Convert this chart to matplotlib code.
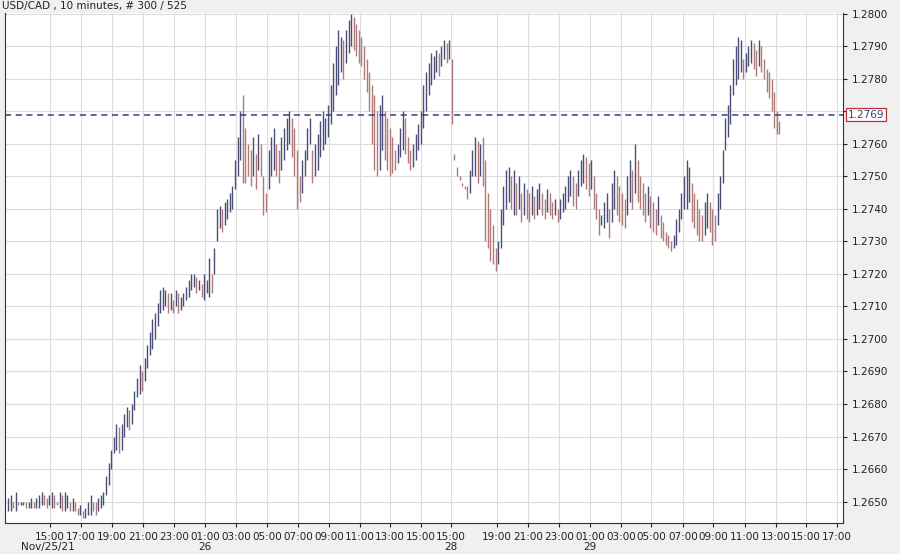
import matplotlib
matplotlib.use("Agg")
import matplotlib.pyplot as plt
import numpy as np

BASE = 1.26
highs = [51,52,50,53,50,50,50,50,50,51, 50,51,52,53,52,51,52,53,52,50,
         53,52,53,52,50,51,50,48,49,47, 48,50,52,50,50,51,52,53,
         58,62,66,70,74,73,74,77,79,78, 80,84,88,92,90,94,98,102,106,108,
         111,115,116,115,114,114,112,115,114,113, 114,116,118,120,120,119,118,117,120,118,
         125,120,128,140,141,140,142,143,145,147, 155,162,170,175,165,160,158,162,157,163,
         160,150,145,158,162,165,160,158,162,165, 168,170,168,165,158,150,155,158,165,168,
         158,160,163,167,170,168,172,178,185,190, 195,193,192,195,198,200,199,197,195,193,
         190,186,182,178,175,170,172,175,170,168, 165,162,158,160,165,170,168,162,158,160,
         163,166,170,178,182,185,188,187,189,188, 190,192,191,192,186,
         157,153,150,148,147,147,152,158,162,161, 160,162,155,145,140,135,128,130,140,147,
         152,153,150,152,148,150,145,148,146,145, 147,144,146,148,145,143,146,145,142,143,
         140,143,145,147,150,152,150,148,152,155, 157,156,154,155,150,145,140,138,142,145,
         140,148,152,150,147,145,143,150,155,152, 160,155,150,148,145,147,144,142,140,144,
         138,136,133,132,130,132,137,140,145,150, 155,153,148,145,143,140,138,142,145,142,
         140,138,145,150,158,168,172,178,186,190, 193,192,186,188,190,192,191,189,192,190,
         186,183,182,180,176,170,167]
lows = [47,47,48,47,49,49,49,48,48,48, 48,48,48,49,49,48,49,48,48,49,
        48,47,47,48,47,47,47,46,46,45, 45,46,46,47,46,47,48,49,
        52,55,60,65,66,65,66,70,73,72, 74,78,82,83,84,87,91,95,97,100,
        104,108,109,110,108,109,108,110,108,109, 110,112,113,115,116,114,115,113,112,114,
        113,114,120,130,134,133,135,137,139,140, 146,150,155,148,148,150,147,150,146,152,
        150,138,139,146,150,152,150,148,152,155, 158,160,156,150,140,142,145,150,155,160,
        148,150,152,156,158,160,162,166,170,175, 178,182,180,185,188,190,189,187,185,184,
        180,176,170,160,152,150,152,158,155,152, 150,151,152,154,156,158,157,154,152,153,
        155,158,160,165,170,175,178,180,182,181, 184,186,185,186,166,
        155,150,149,147,146,143,145,150,150,148, 150,147,130,128,124,123,121,123,128,135,
        140,142,140,138,138,140,136,138,137,136, 138,137,138,140,138,137,139,138,137,138,
        136,137,139,140,142,144,141,140,144,147, 148,146,144,146,140,137,132,135,134,136,
        131,136,140,138,136,135,134,138,142,140, 145,142,140,138,136,138,134,133,132,135,
        131,130,129,128,127,128,129,133,137,140, 140,142,136,134,132,130,130,132,134,133,
        129,130,135,140,148,158,162,166,175,178, 180,182,180,182,184,185,183,181,184,182,
        180,176,174,170,165,163,163]
last_price = 1.2769
tick_px = [50,81,112,143,174,205,236,267,298,329,360,390,421,451,497,528,559,590,621,651,683,713,745,776,806,837]
tick_labels = ["15:00","17:00","19:00","21:00","23:00","01:00","03:00","05:00","07:00","09:00","11:00","13:00","15:00",
               "15:00","19:00","21:00","23:00","01:00","03:00","05:00","07:00","09:00","11:00","13:00","15:00","17:00"]
date_px = [48,205,451,590]
date_labels = ["Nov/25/21","26","28","29"]

hi = BASE + np.array(highs)/10000.0
lo = BASE + np.array(lows)/10000.0
n = len(hi)
idx = np.arange(n)
mid = (hi+lo)/2
up = np.r_[True, mid[1:] >= mid[:-1]]

def px2i(p):
    return (p-8)/2.58

YMIN, YMAX = 1.26434, 1.280025
fig = plt.figure(figsize=(9,5.54), dpi=100, facecolor="#f0f0f0")
ax = fig.add_axes([5/900, 1-523/554, 838/900, (523-13)/554])
ax.set_facecolor("white")
ax.vlines(idx[up], lo[up], hi[up], color="#4a4e78", lw=1.0)
ax.vlines(idx[~up], lo[~up], hi[~up], color="#b07a78", lw=1.0)
ax.axhline(last_price, color="#3c3c7c", ls=(0,(4,3)), lw=1.1)
ax.set_xlim(px2i(5), px2i(843))
ax.set_ylim(YMIN, YMAX)
ax.set_yticks(np.arange(1.2650, 1.28001, 0.001))
ax.yaxis.tick_right()
ax.yaxis.set_major_formatter(matplotlib.ticker.FormatStrFormatter("%.4f"))
ax.set_xticks([px2i(p) for p in tick_px])
ax.set_xticklabels(tick_labels)
ax.tick_params(axis="both", labelsize=7.5, colors="#222222", length=3)
ax.grid(True, color="#dcdcdc", lw=0.8)
ax.set_axisbelow(True)
ax.spines["top"].set_visible(False)
for s in ["left","right","bottom"]:
    ax.spines[s].set_color("#333333")
for p, l in zip(date_px, date_labels):
    ax.text(px2i(p), -0.048, l, transform=ax.get_xaxis_transform(), fontsize=7.5, ha="center", va="center", color="#222222")
# hide the tick label hidden behind the price box in the reference
for t in ax.get_yticklabels():
    if t.get_text() == "1.2770":
        t.set_visible(False)
ax.text(1.006, (last_price-YMIN)/(YMAX-YMIN), "1.2769", transform=ax.transAxes, fontsize=7.5,
        va="center", ha="left", color="#3c3c7c", zorder=10,
        bbox=dict(boxstyle="square,pad=0.15", fc="white", ec="#c03030", lw=0.9))
fig.text(2/900, 1-6/554, "USD/CAD , 10 minutes, # 300 / 525", fontsize=7.5, va="center", ha="left", color="#222222")
fig.savefig("out.png", dpi=100, facecolor=fig.get_facecolor())
